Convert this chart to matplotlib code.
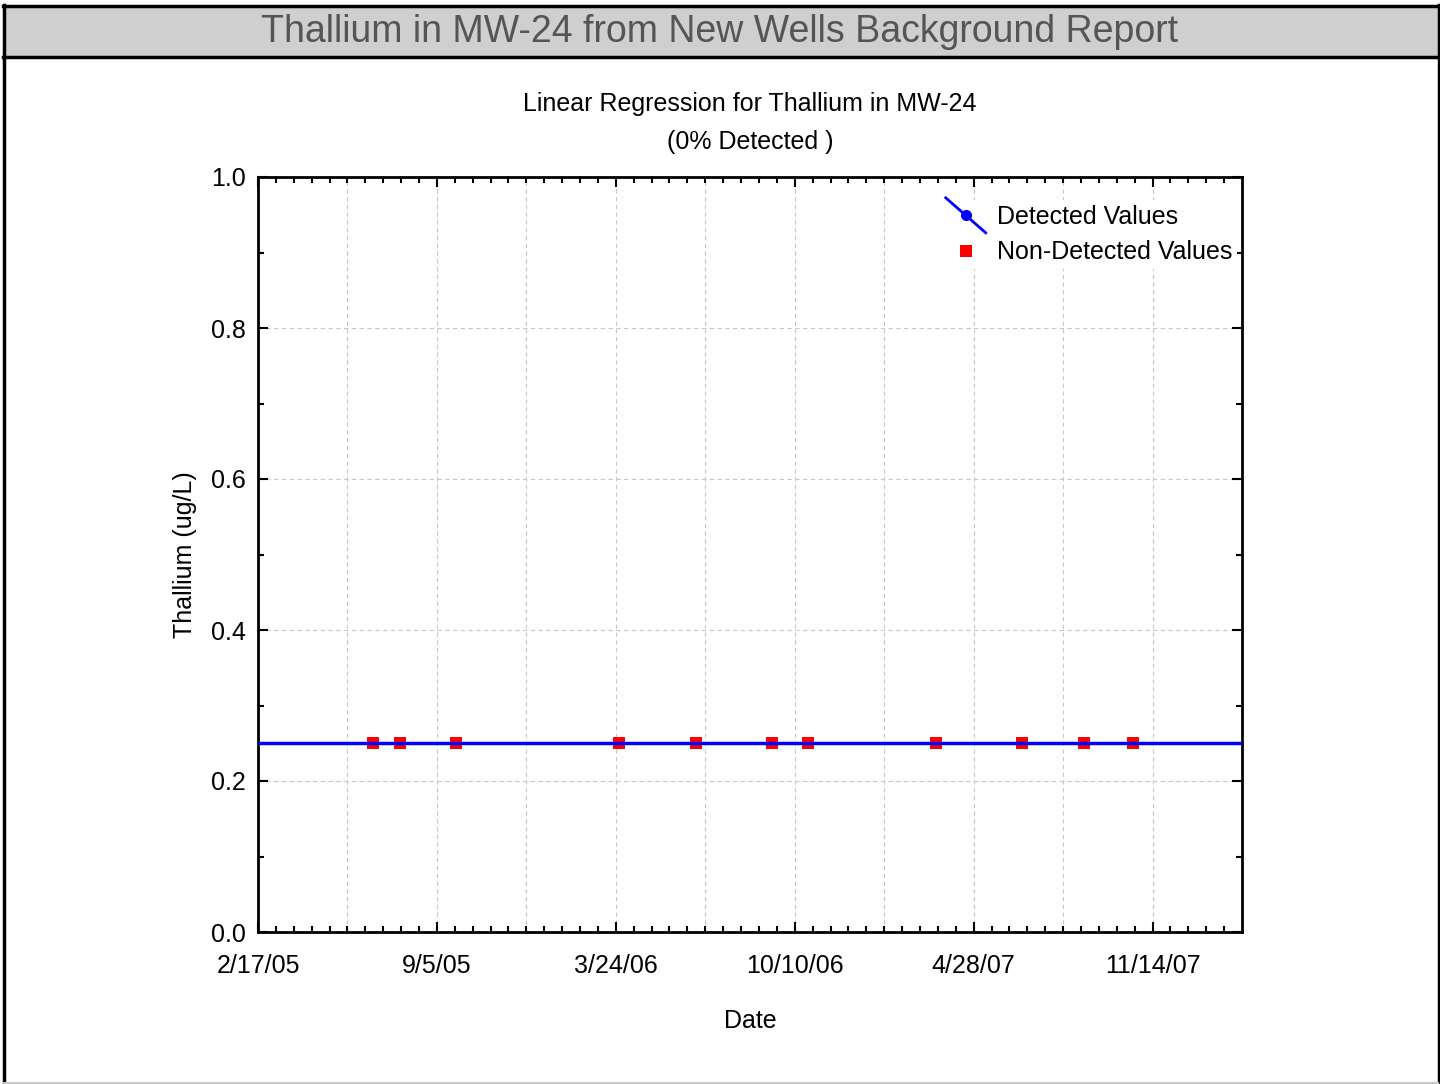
import datetime as dt
import numpy as np
import matplotlib
matplotlib.use('Agg')
import matplotlib.pyplot as plt
import matplotlib.dates as mdates
from matplotlib.lines import Line2D
from matplotlib.legend_handler import HandlerLine2D
from matplotlib.patches import Rectangle
from matplotlib.ticker import FixedLocator, MultipleLocator, FuncFormatter

plt.rcParams['font.family'] = ['Liberation Sans', 'DejaVu Sans']

# data (all non-detects at 0.25 ug/L)
sample_dates = ['2005-06-25', '2005-07-26', '2005-09-26', '2006-03-27', '2006-06-22',
                '2006-09-15', '2006-10-25', '2007-03-17', '2007-06-21', '2007-08-29',
                '2007-10-23']
nd_values = [0.25, 0.25, 0.25, 0.25, 0.25, 0.25, 0.25, 0.25, 0.25, 0.25, 0.25]
axis_start = '2005-02-17'
axis_days = 1100


class DiagonalHandler(HandlerLine2D):
    def create_artists(self, legend, orig_handle, xdescent, ydescent,
                       width, height, fontsize, trans):
        arts = super().create_artists(legend, orig_handle, xdescent, ydescent,
                                      width, height, fontsize, trans)
        for a in arts:
            n = len(a.get_xdata())
            a.set_ydata(np.linspace(height + 0.5 * height, -0.5 * height, n))
        return arts


x = mdates.date2num([dt.date.fromisoformat(d) for d in sample_dates])
y = np.array(nd_values)
x0 = mdates.date2num(dt.date.fromisoformat(axis_start))
x1 = x0 + axis_days

# regression line (intercept/slope from the values)
slope, intercept = np.polyfit(x - x0, y, 1)
reg_x = np.array([x0, x1])
reg_y = intercept + slope * (reg_x - x0)

fig = plt.figure(figsize=(14.4, 10.84), dpi=100)

# header bar and frame
fig.patches.append(Rectangle((3 / 1440, 1 - 57 / 1084), 1435 / 1440, 52 / 1084,
                             transform=fig.transFigure, facecolor='#d0cfcf',
                             edgecolor='none', zorder=0))
fig.add_artist(Line2D([3 / 1440, 1438 / 1440], [1 - 56.5 / 1084] * 2, color='black', lw=2.5))
fig.add_artist(Line2D([3 / 1440, 1438 / 1440], [1 - 5.5 / 1084] * 2, color='black', lw=2.5))
fig.add_artist(Line2D([3.5 / 1440] * 2, [1 - 5 / 1084, 0.001], color='black', lw=2.5))
fig.add_artist(Line2D([1438.5 / 1440] * 2, [1 - 5 / 1084, 0.001], color='black', lw=2.5))
fig.add_artist(Line2D([3 / 1440, 1438 / 1440], [1 - 1082.5 / 1084] * 2, color='#c8c8c8', lw=1.5))
fig.text(0.5, 1 - 32 / 1084, 'Thallium in MW-24 from New Wells Background Report',
         ha='center', va='center', fontsize=27, color='#555555')

ax = fig.add_axes([258 / 1440, 1 - 932 / 1084, 984 / 1440, 755 / 1084])

ax.plot(reg_x, reg_y, color='#0000ff', lw=2.5, zorder=4)
ax.plot(x, y, linestyle='none', marker='s', markersize=8, color='#ff0000',
        markeredgewidth=0, zorder=3)

ax.set_xlim(x0, x1)
ax.set_ylim(0, 1.0)

ax.xaxis.set_major_locator(FixedLocator(np.arange(x0, x1, 200)))
ax.xaxis.set_minor_locator(FixedLocator(np.arange(x0, x1, 20)))
ax.xaxis.set_major_formatter(FuncFormatter(
    lambda v, p: '{d.month}/{d.day}/{y}'.format(d=mdates.num2date(v), y=mdates.num2date(v).strftime('%y'))))
ax.yaxis.set_major_locator(MultipleLocator(0.2))
ax.yaxis.set_minor_locator(MultipleLocator(0.1))
ax.yaxis.set_major_formatter(FuncFormatter(lambda v, p: f'{v:.1f}'))

for gx in np.arange(x0 + 100, x1, 100):
    ax.axvline(gx, color='#c8c8c8', lw=0.8, ls=(0, (4, 3)), zorder=1)
for gy in [0.2, 0.4, 0.6, 0.8]:
    ax.axhline(gy, color='#c8c8c8', lw=0.8, ls=(0, (4, 3)), zorder=1)

ax.tick_params(which='both', direction='in', top=True, right=True, width=1.5,
               labelsize=18)
ax.tick_params(axis='x', pad=16)
ax.tick_params(axis='y', pad=9)
ax.tick_params(which='major', length=7)
ax.tick_params(which='minor', length=4)
for s in ax.spines.values():
    s.set_linewidth(2)

ax.set_xlabel('Date', fontsize=18, labelpad=22)
ax.set_ylabel('Thallium (ug/L)', fontsize=18, labelpad=10)
ax.set_title('Linear Regression for Thallium in MW-24\n(0% Detected )', fontsize=18,
             pad=20, linespacing=1.75)

det_handle = Line2D([], [], color='#0000ff', lw=2, marker='o', markersize=7)
nd_handle = Line2D([], [], linestyle='none', marker='s', markersize=8,
                   color='#ff0000', markeredgewidth=0)
leg = ax.legend([det_handle, nd_handle], ['Detected Values', 'Non-Detected Values'],
                loc='upper right', bbox_to_anchor=(1.008, 0.986), fontsize=18,
                frameon=True, facecolor='white', edgecolor='none', framealpha=1,
                handlelength=1.6, handletextpad=0.45, borderpad=0.2, labelspacing=0.45,
                handler_map={det_handle: DiagonalHandler(numpoints=1)})
leg.set_zorder(5)

plt.savefig('out.png', dpi=100)
plt.close()
